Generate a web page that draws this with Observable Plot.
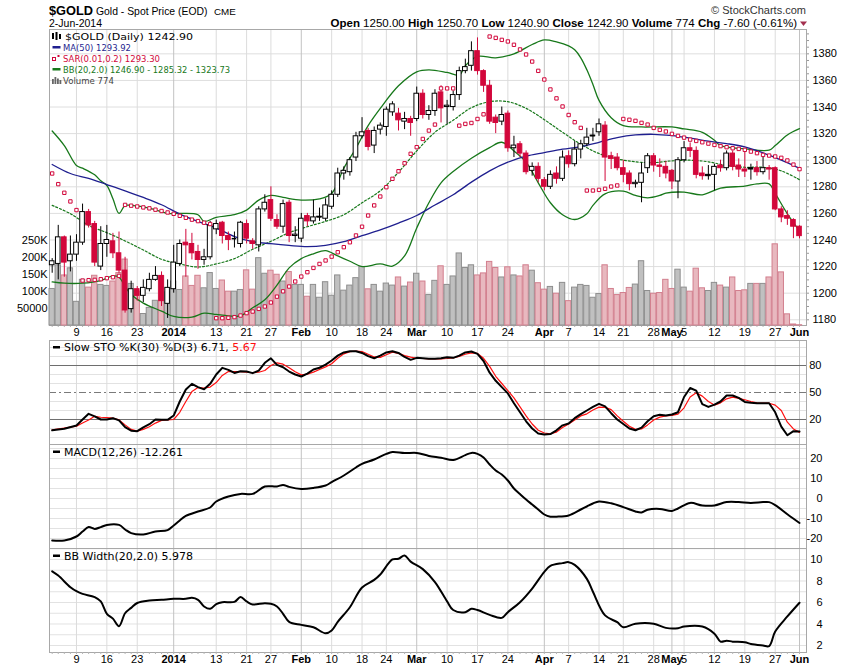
<!DOCTYPE html>
<html><head><meta charset="utf-8">
<script src="https://cdn.jsdelivr.net/npm/d3@7"></script>
<script src="https://cdn.jsdelivr.net/npm/@observablehq/plot@0.6"></script>
<style>
body{margin:0;background:#fff;}
#wrap{position:relative;width:850px;height:668px;overflow:hidden;background:#fff;}
</style></head>
<body><div id="wrap"></div>
<script>
// ---- x-axis tick labels (trading-day index, 0 = 3-Dec-2013) ----
const tickIdx = [4,9,14,20,27,32,36,41,46,51,55,60,65,70,75,81,85,90,94,99,102,104,109,114,119,123];
const tickLabels = ["9","16","23","2014","13","21","27","Feb","10","18","24","Mar","10","17","24","Apr","7","14","21","28","May","5","12","19","27","Jun"];

// ---- daily OHLC ----
const open = [1221,1222,1242,1224,1229,1238,1261,1252,1220,1237, 1239,1230,1217,1188,1203,1198,1203,1210,1213,1192, 1203,1222,1238,1237,1231,1225,1227,1248,1253,1243, 1241,1237,1252,1239,1236,1263,1270,1255,1250,1268, 1243,1241,1258,1254,1257,1256,1265,1274,1290,1291, 1302,1318,1322,1311,1323,1325,1336,1335,1329,1331, 1331,1350,1334,1337,1351,1340,1340,1349,1367,1371, 1382,1367,1356,1332,1329,1335,1309,1312,1305,1292, 1295,1285,1280,1290,1286,1303,1297,1308,1312,1318, 1321,1326,1303,1302,1294,1290,1282,1283,1294,1303, 1296,1295,1292,1284,1300,1309,1307,1290,1289,1289, 1296,1294,1305,1296,1293,1294,1294,1291,1294,1294, 1263,1258,1255,1250];
const high = [1226,1251,1243,1243,1244,1267,1263,1254,1250,1251, 1245,1246,1227,1209,1205,1210,1215,1220,1216,1210, 1236,1240,1248,1245,1236,1233,1254,1255,1254,1246, 1246,1254,1255,1241,1265,1274,1280,1259,1270,1270, 1250,1260,1260,1270,1264,1271,1277,1294,1295,1302, 1321,1332,1324,1325,1328,1340,1344,1339,1336,1333, 1355,1353,1341,1353,1356,1345,1352,1370,1376,1389, 1392,1368,1360,1334,1340,1337,1318,1314,1307,1298, 1298,1287,1292,1295,1307,1307,1314,1315,1324,1324, 1331,1329,1306,1305,1300,1292,1285,1298,1305,1305, 1301,1299,1293,1302,1314,1313,1310,1295,1296,1297, 1300,1307,1307,1301,1306,1297,1299,1303,1296,1295, 1265,1262,1256,1250.7];
const low = [1215,1210,1212,1216,1224,1236,1249,1220,1217,1227, 1226,1215,1185,1185,1194,1193,1201,1209,1190,1181, 1200,1220,1212,1225,1218,1221,1225,1244,1237,1232, 1234,1234,1237,1233,1231,1261,1254,1248,1245,1238, 1238,1238,1250,1252,1254,1254,1263,1272,1285,1288, 1299,1316,1307,1305,1319,1318,1333,1322,1323,1318, 1329,1331,1330,1333,1328,1327,1337,1345,1365,1367, 1364,1351,1327,1320,1326,1306,1302,1302,1289,1288, 1283,1277,1278,1282,1284,1294,1295,1301,1310,1314, 1318,1284,1293,1292,1283,1277,1279,1268,1290,1291, 1287,1286,1278,1271,1298,1302,1286,1285,1285,1277, 1291,1292,1292,1287,1287,1285,1288,1289,1285,1262, 1253,1251,1241,1240.9];
const close = [1224,1242,1223,1229,1238,1261,1251,1223,1237,1240, 1230,1217,1187,1203,1198,1204,1210,1213,1194,1204, 1223,1237,1236,1230,1225,1227,1251,1252,1243,1240, 1241,1253,1241,1237,1263,1268,1256,1250,1267,1243, 1244,1256,1254,1257,1257.5,1266,1274,1290,1292,1300, 1318,1321,1310,1322,1326,1338,1342,1330,1331,1328, 1350,1334,1337,1350,1339,1341,1349,1367,1370,1382, 1367,1356,1329,1328,1334,1309,1311,1305,1291,1295, 1286,1280,1289,1286,1302,1297,1308,1312,1317,1318.5, 1327,1302,1301,1294,1289,1282,1283,1290,1303,1296, 1295,1290,1284,1300,1309,1307,1289,1288,1288,1295, 1294,1305,1295,1293,1291.5,1293,1291,1294,1293,1263, 1257,1256,1250,1242.9];
// volume in thousands
const volumeK = [108,178,148,169,70,135,112,147,120,117, 130,155,195,123,100,34,52,73,146,98, 130,105,145,117,147,110,155,108,133,100, 100,105,163,106,199,153,162,150,130,158, 120,120,85,120,82,128,88,148,103,118, 140,173,107,120,100,124,118,142,115,127, 153,130,90,132,175,120,145,213,170,178, 148,154,188,170,142,172,148,145,178,162, 125,106,114,94,126,72,112,120,117,82, 93,178,108,90,96,111,121,190,102,94, 96,135,108,165,112,100,168,110,102,126, 118,112,142,102,104,123,123,123,142,240, 157,33,3,0.774];
// Parabolic SAR, one per day
const sar = [1290,1282,1275.5,1269,1262.5, 1209.5,1209.8,1210,1210.5,1211.3, 1212,1213,1266.4,1265.8,1265.2, 1264.5,1263.8,1262.8,1261.8,1260.7, 1259.7,1258.2,1256.7,1255.3,1254.2, 1253,1252,1181.2,1181.2,1181.5, 1182,1183.2,1185,1186.2,1188.2, 1190,1193,1197.4,1201.4,1205, 1208.8,1212.5,1215.8,1219,1222, 1224.6,1227.5,1230.8,1234.6,1238.3, 1243.4,1250,1258.4,1266,1272.7, 1279.7,1286,1291.7,1297.7,1304.8, 1309.8,1316,1322.3,1326.8,1354, 1354,1354,1326,1327.3,1328, 1331,1334.5,1393,1392,1390.5, 1389.3,1386.8,1383.3,1379.5,1374.2, 1367.2,1360.7,1353.2,1346.5,1340.4, 1334,1328.6,1324.3,1277.2,1277.2, 1277.7,1278.5,1280.2,1281,1331, 1330.4,1329.6,1328.1,1326.8,1324.3, 1322.8,1321.6,1319.8,1318.3,1317, 1315.5,1314.5,1313.5,1312.5,1311.5, 1310.6,1309.8,1309,1308.5,1307.8, 1306.5,1305.3,1304,1303.5,1302.8, 1301.8,1299.8,1296.7,1293.3];

// ---- indicator readings [dayIndex, value] ----
const ma50 = [[0,1296.8],[3,1290],[6,1286.3],[9,1281.7],[12,1277],[15,1272],[18,1266.5],[21,1259.5],[24,1254],[27,1249],[30,1242.6],[33,1238.8],[36,1237.2],[39,1235.9],[42,1235],[45,1236],[48,1238.7],[51,1243.2],[54,1247.6],[57,1252.7],[60,1258.4],[63,1266.3],[66,1274],[69,1283.5],[72,1292],[75,1298.5],[78,1303],[81,1305.7],[84,1308.3],[87,1310.3],[90,1313.5],[93,1317],[96,1319],[99,1319.5],[102,1318.5],[105,1316.6],[108,1314.3],[111,1312.5],[114,1310],[117,1305.5],[120,1300],[123,1293.9]];
const bbUpper = [[0,1322],[2,1311],[4,1296],[5,1294],[7,1289],[8,1284.5],[9,1281],[10,1271],[11,1260],[12,1266],[13,1266],[16,1264],[19,1260],[21,1260],[24,1259],[25,1254],[27,1257],[30,1259],[32,1262.5],[34,1270],[36,1273.5],[38,1272],[41,1270],[44,1271],[46,1275],[48,1294],[50,1309],[52,1326],[54,1339],[57,1356],[60,1366.5],[62,1368],[65,1366],[67,1364],[68,1371],[70,1378],[73,1377],[76,1380],[79,1387],[81,1390.5],[83,1389],[85,1386],[86,1383],[87,1377],[88,1368],[89,1357],[90,1345],[92,1332],[94,1326],[97,1325],[102,1325],[104,1323.5],[107,1321],[109,1315],[110,1311],[114,1308.6],[118,1307.5],[119,1311],[121,1319],[123,1323.73]];
const bbMid = [[0,1266],[3,1259.8],[6,1251],[9,1245.5],[12,1239.3],[15,1232.5],[18,1225.5],[21,1222],[24,1219.7],[27,1222],[30,1226],[33,1233],[36,1239],[39,1245.5],[42,1250],[45,1254],[48,1259],[51,1268],[54,1277],[57,1291],[60,1307],[63,1321],[66,1330],[69,1339.5],[72,1344],[75,1344],[78,1339],[81,1330.5],[84,1321],[87,1312],[90,1305],[93,1301],[96,1298.8],[99,1298.2],[102,1299.5],[105,1300],[108,1298.8],[111,1296],[114,1294.7],[117,1294.7],[120,1292],[123,1285.32]];
const bbLower = [[0,1208.5],[2,1207.5],[5,1207.5],[8,1209.5],[10,1213],[11,1212],[12,1205],[13,1199],[15,1192.5],[18,1186.5],[20,1182.5],[23,1182],[25,1185],[27,1184],[29,1183],[31,1183],[33,1189],[35,1195],[37,1206],[39,1219],[41,1226],[43,1229.6],[45,1232],[47,1228],[49,1224],[51,1220],[54,1222],[56,1220.3],[58,1228],[60,1249],[62,1268],[64,1283],[66,1291.5],[69,1301.5],[72,1309.5],[74,1313.5],[76,1307],[78,1298.5],[80,1283],[82,1268],[84,1259],[86,1255.4],[88,1259.7],[89,1266],[91,1274.7],[94,1276.7],[96,1273.5],[98,1271.7],[100,1273.5],[101,1275.2],[104,1276],[107,1274],[110,1279],[114,1280.5],[116,1282.2],[118,1282.2],[119,1275],[121,1259.7],[123,1246.9]];
const stoK = [[0,8],[2,9.8],[4,13.3],[5,20],[6,26.3],[7,23.5],[8,20],[9,20],[10,21.5],[11,19],[12,11.5],[13,7.5],[14,7],[15,11.3],[16,14.8],[17,20],[18,19.8],[19,19.6],[20,24.4],[21,40],[22,53.3],[23,59.6],[24,56],[25,53.5],[26,59.6],[27,70],[28,77.4],[29,75.2],[30,71.7],[31,73.7],[32,73.3],[33,71.5],[34,74.4],[35,83],[36,88],[37,80.7],[38,78.1],[39,73.3],[40,70],[41,67.8],[42,71],[43,75.6],[44,77.5],[45,81],[46,85.6],[47,91],[48,94.5],[49,95.9],[50,95.9],[51,94],[52,90.4],[53,88.1],[54,91],[55,94.5],[56,95.9],[57,94],[58,89.5],[59,86.3],[60,88.5],[61,88],[62,87.4],[63,87.4],[64,88],[65,89.3],[66,88.5],[67,91],[68,94.5],[69,95.6],[70,93],[71,85],[72,72],[73,63],[74,56],[75,49],[76,38],[77,28],[78,18],[79,10],[80,4.5],[81,3.3],[82,3.8],[83,8],[84,13.5],[85,15.5],[86,21.5],[87,26],[88,30],[89,34],[90,37.4],[91,34.5],[92,27],[93,20],[94,15],[95,10],[96,8],[97,11],[98,18],[99,23.5],[100,25.2],[101,24.5],[102,25.5],[103,28.1],[104,45],[105,55],[106,52],[107,37],[108,34],[109,36.5],[110,40],[111,46.7],[112,46.7],[113,44],[114,39.5],[115,38.5],[116,38.1],[117,38.1],[118,38.1],[119,28],[120,12],[121,2.5],[122,7],[123,6.71]];
const stoD = [[0,8.5],[2,10.4],[4,12.6],[5,16],[6,19.5],[7,23.5],[8,22.5],[9,22],[10,21.5],[11,19.5],[12,14],[13,9],[14,7],[15,9],[16,12],[17,16],[18,19],[19,19.6],[20,20],[21,28],[22,40],[23,51],[24,55.5],[25,55],[26,56],[27,61],[28,69],[29,73.3],[30,73.3],[31,73.3],[32,72.5],[33,72.2],[34,72.5],[35,74.5],[36,80],[37,83],[38,81.5],[39,77.5],[40,73],[41,69.6],[42,70.5],[43,72.6],[44,75.5],[45,78.5],[46,82],[47,88],[48,93],[49,95.4],[50,95.9],[51,95.5],[52,92.5],[53,89.5],[54,89],[55,92],[56,94.8],[57,93.5],[58,91],[59,89.3],[60,88.1],[61,87.8],[62,87.4],[63,87.4],[64,87.4],[65,87.8],[66,88.5],[67,90],[68,92.5],[69,94],[70,93.5],[71,88],[72,79],[73,68],[74,60],[75,52],[76,44],[77,34],[78,24],[79,15],[80,8],[81,5],[82,4.1],[83,6],[84,11],[85,15],[86,19.5],[87,24],[88,26.3],[89,30.5],[90,33.7],[91,33.5],[92,31],[93,24],[94,18],[95,12.5],[96,9],[97,9.5],[98,14],[99,19.5],[100,22.6],[101,24],[102,24.5],[103,26],[104,33],[105,45],[106,49.6],[107,46],[108,40],[109,36],[110,38.5],[111,43],[112,44.8],[113,43.5],[114,41.9],[115,40],[116,38.5],[117,38.1],[118,38.1],[119,36],[120,30],[121,17],[122,9.5],[123,5.67]];
const macd = [[0,-21],[2,-21],[4,-19],[5,-16.5],[6,-14.3],[7,-15.2],[8,-14.3],[9,-13.2],[11,-13.2],[12,-15.5],[13,-17.3],[15,-18],[17,-16.5],[19,-15.8],[20,-13.5],[21,-11],[22,-8.7],[24,-6.5],[26,-4.5],[27,-1.5],[29,1],[31,2.3],[33,2.3],[35,6],[37,6],[38,6.8],[39,5.8],[41,4.8],[43,5.3],[45,6.5],[46,8.2],[48,11.5],[50,15.5],[51,17.3],[53,19.5],[55,22.3],[56,23.2],[58,22.7],[60,22.8],[62,21.3],[64,20.4],[66,19.3],[68,21.7],[69,22.8],[70,22.3],[71,20.5],[72,17],[73,14],[74,12],[75,9],[76,5],[77,2.2],[78,-0.5],[79,-3],[80,-5.5],[81,-8],[82,-9.1],[83,-9.1],[85,-8.5],[87,-5.5],[88,-4],[89,-2.5],[90,-1.5],[92,-2.4],[94,-4.3],[96,-6.5],[97,-7],[98,-5.6],[100,-5.2],[102,-6.2],[103,-5],[105,-2.2],[107,-3.5],[109,-3.5],[111,-1.8],[113,-1.8],[115,-2.2],[117,-1.8],[118,-1.8],[119,-3.3],[121,-7.9],[123,-12.261]];
const bbWidth = [[0,8.9],[1,8.5],[3,7.42],[4,7.05],[5,6.8],[7,6.5],[8,6.1],[9,4.95],[10,4.5],[11,3.8],[12,5.0],[13,5.5],[14,5.95],[16,6.18],[18,6.25],[20,6.34],[22,6.34],[23,6.43],[24,6.25],[25,5.63],[26,5.41],[27,5.85],[28,6.03],[30,6.06],[31,6.5],[32,6.1],[33,5.81],[35,5.94],[36,5.88],[37,5.63],[38,4.95],[39,4.2],[41,3.92],[43,3.7],[45,3.14],[46,3.4],[47,4.2],[49,5.56],[51,7.4],[53,8.1],[54,8.6],[56,10],[57,10.06],[58,10.37],[59,9.8],[61,9.1],[63,7.9],[65,6.1],[66,5.3],[68,5.1],[69,5.41],[70,5.3],[72,4.85],[74,4.57],[75,5.1],[77,6.03],[79,7.3],[81,8.85],[82,9.4],[84,9.66],[85,9.75],[86,9.5],[88,8.2],[89,7.0],[91,4.8],[93,4.17],[94,3.7],[96,4.02],[99,4.02],[101,3.64],[103,3.61],[104,3.76],[107,3.76],[109,3.1],[110,2.36],[111,2.45],[112,2.36],[114,2.3],[115,2.14],[117,2.0],[118,1.95],[119,3.3],[121,4.7],[123,5.978]];

// ---- tables built from the arrays ----
const RED = "#d2073b", NAVY = "#1f1f8f", GREEN = "#17781a";
const candles = open.map((o, i) => {
  const c = close[i], prev = i ? close[i - 1] : c;
  const filled = c < o;
  return {i, open: o, high: high[i], low: low[i], close: c, vol: volumeK[i] * 1000,
    filled, col: filled ? (c < prev ? RED : "#000") : "#000", up: c >= prev};
});
const sarData = sar.map((v, i) => ({i, v}));

const wrap = document.getElementById("wrap");
const XD = [-0.44, 124.15];
const FONT = "'Liberation Sans', Arial, Helvetica, sans-serif";
const base = {width: 850, marginLeft: 49, marginRight: 44,
  style: {background: "transparent", fontFamily: FONT, fontSize: "11px", color: "#000", overflow: "visible"}};
function mount(svg, top) { svg.style.position = "absolute"; svg.style.left = "0px"; svg.style.top = top + "px"; wrap.appendChild(svg); }
const labelOf = new Map(tickIdx.map((d, k) => [d, tickLabels[k]]));
const boldSet = new Set(["2014", "Feb", "Mar", "Apr", "May", "Jun"]);
const normIdx = tickIdx.filter(d => !boldSet.has(labelOf.get(d)));
const boldIdx = tickIdx.filter(d => boldSet.has(labelOf.get(d)));
const dayIdx = d3.range(0, 124);
const plain = d => String(d);
const vgrid = () => [
  Plot.gridX(normIdx, {stroke: "#dcdcdc", strokeOpacity: 1}),
  Plot.gridX(boldIdx, {stroke: "#c2c2c2", strokeOpacity: 1})
];
const xlabels = () => [
  Plot.axisX(dayIdx, {anchor: "bottom", tickSize: 2, tickFormat: () => "", stroke: "#b4b4b4", label: null}),
  Plot.axisX(normIdx, {anchor: "bottom", tickSize: 0, tickPadding: 3, tickFormat: d => labelOf.get(d), fontSize: 11, label: null}),
  Plot.axisX(boldIdx, {anchor: "bottom", tickSize: 0, tickPadding: 3, tickFormat: d => labelOf.get(d), fontSize: 11, fontWeight: "bold", label: null})
];
const PY = [1175.7, 1398.3];
const priceTicks = d3.range(1180, 1381, 20);

// main panel: grid, frame, axes
mount(Plot.plot({...base, height: 345, marginTop: 29, marginBottom: 20,
  x: {domain: XD}, y: {domain: PY},
  marks: [
    Plot.gridY(priceTicks, {stroke: "#dedede", strokeOpacity: 1}),
    ...vgrid(),
    Plot.frame({stroke: "#a8a8a8"}),
    Plot.axisY(priceTicks, {anchor: "right", tickSize: 0, tickPadding: 6, tickFormat: plain, fontSize: 11, label: null}),
    Plot.axisY(d3.range(1180, 1396, 5), {anchor: "right", tickSize: 2, tickFormat: () => "", stroke: "#999", label: null}),
    ...xlabels()
  ]}), 0);

// volume overlay
mount(Plot.plot({...base, height: 345, marginTop: 29, marginBottom: 20,
  x: {domain: XD, axis: null}, y: {domain: [0, 875000]},
  marks: [
    Plot.rect(candles, {x1: d => d.i - 0.44, x2: d => d.i + 0.44, y1: () => 0, y2: "vol",
      fill: d => d.up ? "#c0c0c0" : "#e8b8bf", stroke: d => d.up ? "#8e8e8e" : "#d27f8e", strokeWidth: 1}),
    Plot.axisY([50000, 100000, 150000, 200000, 250000], {anchor: "left", tickSize: 0, tickPadding: 2,
      tickFormat: d => d >= 100000 ? (d / 1000) + "K" : String(d), fontSize: 11, label: null})
  ]}), 0);

// price overlay
mount(Plot.plot({...base, height: 345, marginTop: 29, marginBottom: 20,
  x: {domain: XD, axis: null}, y: {domain: PY, axis: null},
  marks: [
    Plot.line(bbUpper, {stroke: GREEN, strokeWidth: 1.3, curve: "catmull-rom"}),
    Plot.line(bbLower, {stroke: GREEN, strokeWidth: 1.3, curve: "catmull-rom"}),
    Plot.line(bbMid, {stroke: GREEN, strokeWidth: 1.2, strokeDasharray: "2,2", curve: "catmull-rom"}),
    Plot.line(ma50, {stroke: NAVY, strokeWidth: 1.3, curve: "catmull-rom"}),
    Plot.ruleX(candles, {x: "i", y1: "low", y2: "high", stroke: d => d.col, strokeWidth: 1}),
    Plot.rect(candles, {x1: d => d.i - 0.38, x2: d => d.i + 0.38, y1: "open", y2: "close",
      fill: d => d.filled ? d.col : "white", stroke: d => d.col, strokeWidth: 1}),
    Plot.ruleY(candles.filter(d => Math.abs(d.close - d.open) < 1), {y: "close", x1: d => d.i - 0.38, x2: d => d.i + 0.38, stroke: d => d.col, strokeWidth: 1.5}),
    Plot.dot(sarData, {x: "i", y: "v", symbol: "square", r: 1.9, stroke: RED, fill: "white", strokeWidth: 1})
  ]}), 0);

// Slow stochastics
mount(Plot.plot({...base, height: 114, marginTop: 5, marginBottom: 5,
  x: {domain: XD, axis: null}, y: {domain: [-7.8, 107.8]},
  marks: [
    Plot.gridY([0, 10, 30, 40, 60, 70, 90, 100], {stroke: "#e2e2e2", strokeOpacity: 1}),
    ...vgrid(),
    Plot.ruleY([20, 80], {stroke: "#6e6e6e"}),
    Plot.ruleY([50], {stroke: "#7a7a7a", strokeDasharray: "7,3,2,3"}),
    Plot.frame({stroke: "#a8a8a8"}),
    Plot.line(stoD, {stroke: "#ff1010", strokeWidth: 1.2}),
    Plot.line(stoK, {stroke: "#000", strokeWidth: 2}),
    Plot.axisY([20, 50, 80], {anchor: "right", tickSize: 0, tickPadding: 15, textAnchor: "end", tickFormat: plain, fontSize: 11, label: null})
  ]}), 335);

// MACD
mount(Plot.plot({...base, height: 114, marginTop: 5, marginBottom: 5,
  x: {domain: XD, axis: null}, y: {domain: [-25, 27]},
  marks: [
    Plot.gridY(d3.range(-25, 26, 5), {stroke: "#e2e2e2", strokeOpacity: 1}),
    ...vgrid(),
    Plot.frame({stroke: "#a8a8a8"}),
    Plot.line(macd, {stroke: "#000", strokeWidth: 2, curve: "catmull-rom"}),
    Plot.axisY([-20, -10, 0, 10, 20], {anchor: "right", tickSize: 0, tickPadding: 16, textAnchor: "end", tickFormat: plain, fontSize: 11, label: null})
  ]}), 439);

// BB width
mount(Plot.plot({...base, height: 125, marginTop: 5, marginBottom: 16,
  x: {domain: XD}, y: {domain: [1.35, 11.02]},
  marks: [
    Plot.gridY(d3.range(2, 12, 1), {stroke: "#e2e2e2", strokeOpacity: 1}),
    ...vgrid(),
    Plot.frame({stroke: "#a8a8a8"}),
    Plot.line(bbWidth, {stroke: "#000", strokeWidth: 2, curve: "catmull-rom"}),
    Plot.axisY([2, 4, 6, 8, 10], {anchor: "right", tickSize: 0, tickPadding: 16, textAnchor: "end", tickFormat: plain, fontSize: 11, label: null}),
    ...xlabels()
  ]}), 543);

// ---- header and legends (text overlay) ----
const ov = d3.select(wrap).append("svg").attr("width", 850).attr("height", 668)
  .style("position", "absolute").style("left", "0px").style("top", "0px").style("pointer-events", "none");
function txt(x, y, s, o = {}) {
  const t = ov.append("text").attr("x", x).attr("y", y).attr("font-family", o.ff || FONT)
    .attr("font-size", o.fs || 11).attr("font-weight", o.fw || "normal").attr("fill", o.fill || "#000")
    .attr("text-anchor", o.anchor || "start").text(s);
  if (o.len) t.attr("textLength", o.len).attr("lengthAdjust", "spacingAndGlyphs");
  return t;
}
txt(49, 15, "$GOLD", {fs: 12.8, fw: "bold"});
txt(96, 15, "Gold - Spot Price (EOD)", {fs: 10.4});
txt(214, 15, "CME", {fs: 9.8});
txt(49, 27, "2-Jun-2014", {fs: 10, len: 53});
txt(806, 14, "\u00A9 StockCharts.com", {fs: 11, anchor: "end", fill: "#333"});
const hv = ov.append("text").attr("x", 797).attr("y", 27).attr("font-family", FONT).attr("font-size", 11.5).attr("text-anchor", "end");
[["Open", 1], [" 1250.00  ", 0], ["High", 1], [" 1250.70  ", 0], ["Low", 1], [" 1240.90  ", 0], ["Close", 1], [" 1242.90  ", 0],
 ["Volume", 1], [" 774  ", 0], ["Chg", 1], [" -7.60 (-0.61%)", 0]].forEach(([s, b]) => {
  hv.append("tspan").attr("font-weight", b ? "bold" : "normal").text(s);
});
ov.append("path").attr("d", "M800,21.5 L807,21.5 L803.5,26 Z").attr("fill", "#a3304f");

const LF = "'DejaVu Sans', Verdana, sans-serif";
const LS = 9.4;
// main legend
ov.append("rect").attr("x", 52).attr("y", 33).attr("width", 2).attr("height", 6).attr("fill", "#000");
ov.append("rect").attr("x", 55.5).attr("y", 32).attr("width", 2).attr("height", 8).attr("fill", "#000");
ov.append("rect").attr("x", 59).attr("y", 34).attr("width", 2).attr("height", 5).attr("fill", "#000");
txt(65, 39.5, "$GOLD (Daily) 1242.90", {ff: LF, fs: LS, len: 128});
ov.append("rect").attr("x", 52.5).attr("y", 46).attr("width", 8).attr("height", 2.5).attr("fill", NAVY);
txt(63, 50.5, "MA(50) 1293.92", {ff: LF, fs: LS, fill: NAVY, len: 68});
ov.append("rect").attr("x", 52.5).attr("y", 57.5).attr("width", 3).attr("height", 3).attr("fill", "white").attr("stroke", RED);
ov.append("rect").attr("x", 57.5).attr("y", 55).attr("width", 2).attr("height", 2).attr("fill", RED);
txt(63, 61.5, "SAR(0.01,0.2) 1293.30", {ff: LF, fs: LS, fill: RED, len: 97});
ov.append("rect").attr("x", 52.5).attr("y", 68).attr("width", 8).attr("height", 2.5).attr("fill", GREEN);
txt(63, 72.5, "BB(20,2.0) 1246.90 - 1285.32 - 1323.73", {ff: LF, fs: LS, fill: GREEN, len: 167});
[[52, 79, 5], [54.5, 77, 7], [57, 78.5, 5.5], [59.5, 80, 4]].forEach(([x, y, h]) =>
  ov.append("rect").attr("x", x).attr("y", y).attr("width", 1.8).attr("height", h).attr("fill", "#666"));
txt(63, 83.5, "Volume 774", {ff: LF, fs: LS, fill: "#444", len: 51});
// panel legends
ov.append("rect").attr("x", 53).attr("y", 346).attr("width", 7).attr("height", 2.5).attr("fill", "#000");
const st = txt(64, 351, "Slow STO %K(30) %D(3) 6.71, ", {ff: LF, fs: 11});
st.append("tspan").attr("fill", "#ff1010").text("5.67");
ov.append("rect").attr("x", 53).attr("y", 450.5).attr("width", 7).attr("height", 2.5).attr("fill", "#000");
txt(64, 455.5, "MACD(12,26) -12.261", {ff: LF, fs: 11});
ov.append("rect").attr("x", 53).attr("y", 554.5).attr("width", 7).attr("height", 2.5).attr("fill", "#000");
txt(64, 559.5, "BB Width(20,2.0) 5.978", {ff: LF, fs: 11});
</script>
</body></html>
